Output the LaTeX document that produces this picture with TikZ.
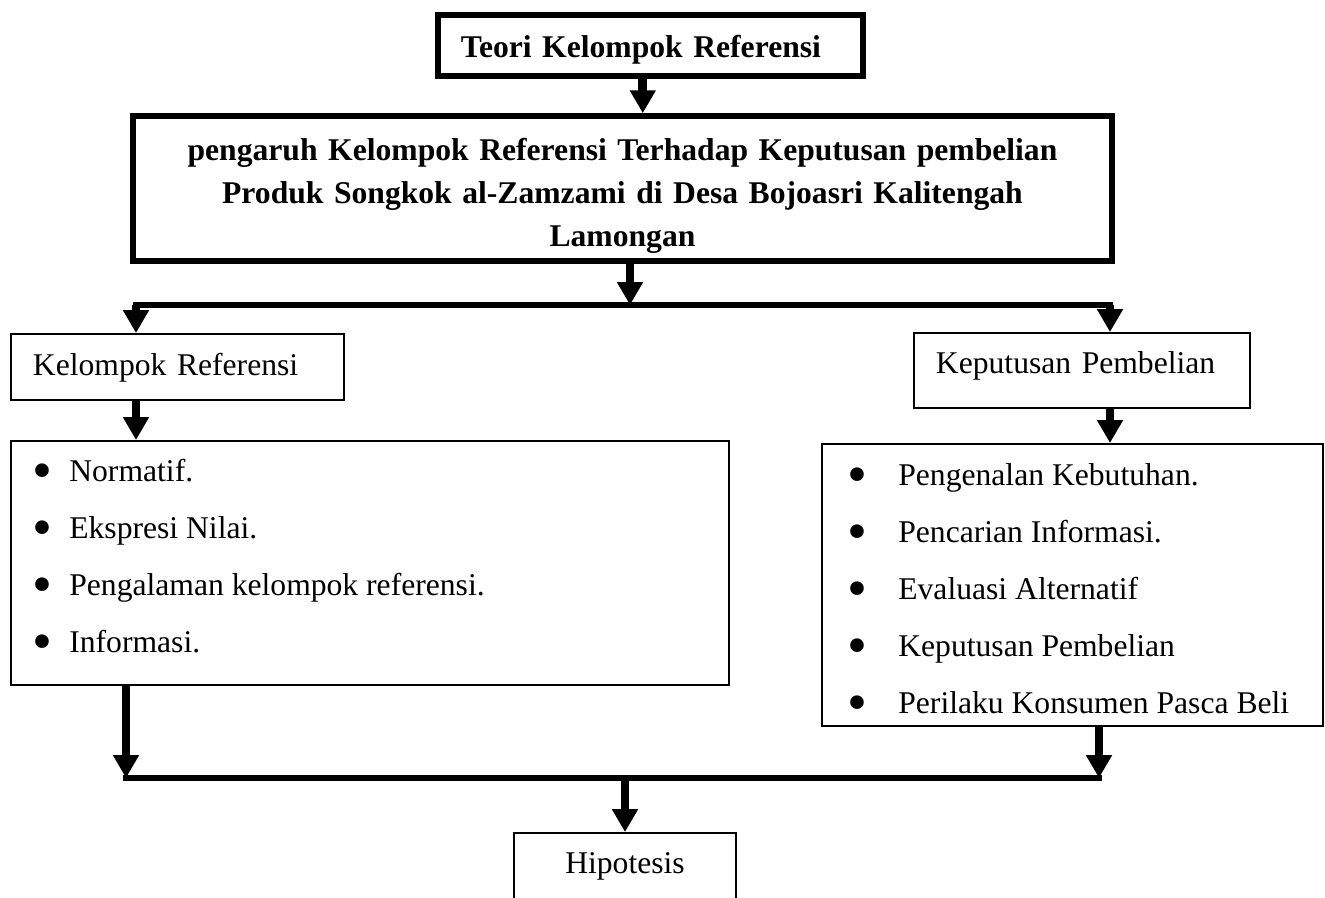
\documentclass[tikz,border=0pt]{standalone}
\usepackage{fontspec}
\setmainfont{Liberation Serif}
\usetikzlibrary{arrows.meta}
\newcommand{\besar}{\fontsize{18}{24.5}\selectfont}
\newcommand{\titik}{\raisebox{-0.17cm}{\scalebox{1.8}{\textbullet}}}

\tikzset{
  kotaktebal/.style={draw, line width=3.2pt, inner ysep=0pt, font=\besar\bfseries},
  kotaktipis/.style={draw, line width=1.1pt, inner ysep=0pt, font=\besar},
  butir/.style={anchor=base west, inner sep=0pt, font=\besar},
  panah/.style={line width=5pt, -{Triangle[width=14pt,length=13pt]}},
  garis/.style={line width=3.4pt, line cap=rect}
}

\begin{document}
\begin{tikzpicture}[x=0.02cm, y=-0.02cm]
\useasboundingbox (0,0) rectangle (1325,897);

\node[kotaktebal, anchor=base west, inner xsep=0.46cm, text width=7.58cm, align=left, text height=0.84cm, text depth=0.38cm] (teori) at (435,57) {Teori Kelompok Referensi};

\node[kotaktebal, anchor=base, inner xsep=0.2cm, text width=19.18cm, align=center, text height=0.88cm, text depth=2.02cm] (judul) at (622.5,160) {pengaruh Kelompok Referensi Terhadap Keputusan pembelian\\Produk Songkok al-Zamzami di Desa Bojoasri Kalitengah\\Lamongan};

\node[kotaktipis, anchor=base west, inner xsep=0.44cm, text width=5.78cm, align=left, text height=0.82cm, text depth=0.5cm] (kr) at (10,375) {Kelompok Referensi};
\node[kotaktipis, anchor=base west, inner xsep=0.44cm, text width=5.84cm, align=left, text height=0.8cm, text depth=0.7cm] (kp) at (913,373) {Keputusan Pembelian};

% daftar indikator
\node[kotaktipis, anchor=north west, inner sep=0pt, minimum width=14.36cm, minimum height=4.88cm] (daftarkr) at (10,440) {};
\node[kotaktipis, anchor=north west, inner sep=0pt, minimum width=10.02cm, minimum height=5.64cm] (daftarkp) at (821,443) {};

\foreach \teks [count=\i] in {Normatif., Ekspresi Nilai., Pengalaman kelompok referensi., Informasi.}
  \node[butir] (nkr\i) at (32,{424+57*\i}) {\makebox[0.74cm][l]{\titik}\teks};
\foreach \teks [count=\i] in {Pengenalan Kebutuhan., Pencarian Informasi., Evaluasi Alternatif, Keputusan Pembelian, Perilaku Konsumen Pasca Beli}
  \node[butir] (nkp\i) at (847,{428+57*\i}) {\makebox[1.02cm][l]{\titik}\teks};

\node[kotaktipis, anchor=base, inner xsep=0pt, text width=4.44cm, align=center, text height=0.8cm, text depth=1cm] (hipo) at (625,873) {Hipotesis};

% garis cabang
\coordinate (cabangkr) at (136,305);
\coordinate (cabangkp) at (1110,305);
\coordinate (gabungkr) at (126,778);
\coordinate (gabungkp) at (1099,778);

\draw[panah] ([xshift=-0.15cm]teori.south) -- ([xshift=-0.15cm]teori.south |- judul.north);
\draw[panah] ([xshift=0.15cm]judul.south) -- ([xshift=0.15cm]judul.south |- cabangkr);
\draw[garis] (cabangkr) -- (cabangkp);
\draw[panah] (cabangkr) -- (cabangkr |- kr.north);
\draw[panah] (cabangkp) -- (cabangkp |- kp.north);
\draw[panah] (cabangkr |- kr.south) -- (cabangkr |- daftarkr.north);
\draw[panah] (cabangkp |- kp.south) -- (cabangkp |- daftarkp.north);

\draw[panah] (gabungkr |- daftarkr.south) -- (gabungkr);
\draw[panah] (gabungkp |- daftarkp.south) -- (gabungkp);
\draw[garis] (gabungkr) -- (gabungkp);
\draw[panah] (hipo.north |- gabungkr) -- (hipo.north);
\end{tikzpicture}
\end{document}
